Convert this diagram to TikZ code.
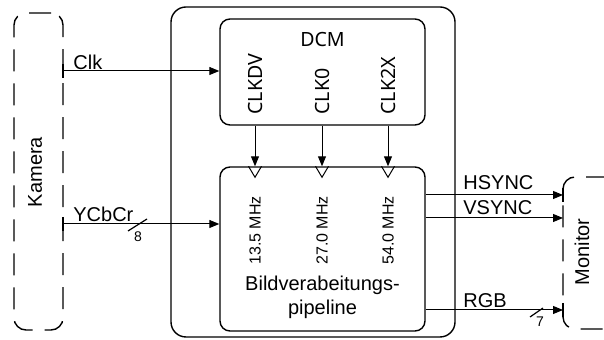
\documentclass[tikz,border=0pt]{standalone}
\usepackage{fontspec}
\setmainfont{Liberation Sans}
\newfontfamily\segoe{Noto Sans}
\usetikzlibrary{arrows.meta,positioning,calc}

\tikzset{
  block/.style={draw, rounded corners=5pt, line width=0.7pt, inner sep=0pt},
  extern/.style={draw, dash pattern=on 11pt off 6pt, rounded corners=6pt, line width=0.7pt, inner sep=0pt},
  sig/.style={-{Triangle[length=5pt,width=4pt]}, line width=0.5pt},
  siglbl/.style={anchor=base west, inner sep=0pt},
  clkpin/.style={rotate=90, anchor=west, inner sep=0pt, font=\segoe\fontsize{9.8}{11}\selectfont},
  freq/.style={rotate=90, anchor=west, inner sep=0pt, font=\fontsize{8}{10}\selectfont},
  buswidth/.style={inner sep=0pt, font=\fontsize{7}{8}\selectfont}
}

\begin{document}
\begin{tikzpicture}[x=0.5pt, y=-0.5pt]
\clip (0,0) rectangle (604,340);
% Boxes
\node (fpga) [block, rounded corners=7.5pt, minimum width=142pt, minimum height=165pt] at (313,172) {};
\node (dcm) [block, minimum width=102.5pt, minimum height=53pt] at (322.5,72) {};
\node (pipe) [block, minimum width=102.5pt, minimum height=82pt] at (322.5,249) {};
\node (cam) [extern, minimum width=24.5pt, minimum height=158.5pt] at (38.5,171.5) {};
\node (mon) [extern, minimum width=28.5pt, minimum height=76pt] at (591.5,253) {};

\node (camlbl) [rotate=90] at (35,172) {Kamera};
\node (monlbl) [rotate=90] at (582,252) {Monitor};
\node (dcmlbl) [below=3.5pt of dcm.north, font=\segoe\fontsize{9.8}{11}\selectfont] {DCM};

\node (clkdv) [clkpin] at (255,115) {CLKDV};
\node (clk0) [clkpin] at (322,115) {CLK0};
\node (clk2x) [clkpin] at (388,115) {CLK2X};

\node (f13) [freq] at (255,265) {13.5 MHz};
\node (f27) [freq] at (322,265) {27.0 MHz};
\node (f54) [freq] at (388,265) {54.0 MHz};
\node (bv) [align=center] at (322.5,297) {Bildverabeitungs-\\pipeline};

% clocks
\foreach \p/\f in {clkdv/f13, clk0/f27, clk2x/f54} {
  \draw[sig] (\p |- dcm.south) -- (\p |- pipe.north);
  \draw[line width=0.5pt] ($(\f |- pipe.north)+(-6.5,0)$) -- ($(\f |- pipe.north)+(0,11)$) -- ($(\f |- pipe.north)+(6.5,0)$);
}

% ports
\coordinate (pclk) at (63,71);
\coordinate (pycc) at (63,224);
\coordinate (phs) at (563,195);
\coordinate (pvs) at (563,218);
\coordinate (prgb) at (563,310);

\draw[sig] (pclk) -- (pclk -| dcm.west);
\draw[sig] (pycc) -- (pycc -| pipe.west);
\draw[sig] (phs -| pipe.east) -- (phs);
\draw[sig] (pvs -| pipe.east) -- (pvs);
\draw[sig] (prgb -| pipe.east) -- (prgb);
\foreach \q in {pclk,pycc,phs,prgb}
  \draw[line width=0.7pt] ($(\q)+(0,-7)$) -- ($(\q)+(0,7)$);

\node (lclk) [siglbl] at (73,70) {Clk};
\node (lycc) [siglbl] at (73,222) {YCbCr};
\node (lhs) [siglbl] at (463,190) {HSYNC};
\node (lvs) [siglbl] at (463,215) {VSYNC};
\node (lrgb) [siglbl] at (463,308) {RGB};

% bus widths
\coordinate (ybus) at (137.5,225);
\draw[line width=0.6pt] ($(ybus)+(-9.5,6)$) -- ($(ybus)+(9.5,-6)$);
\node (w8) [buswidth] at (138,237) {8};
\coordinate (rbus) at (536.5,312.5);
\draw[line width=0.6pt] ($(rbus)+(-6.5,4.5)$) -- ($(rbus)+(6.5,-4.5)$);
\node (w7) [buswidth] at (540,322) {7};
\end{tikzpicture}
\end{document}
